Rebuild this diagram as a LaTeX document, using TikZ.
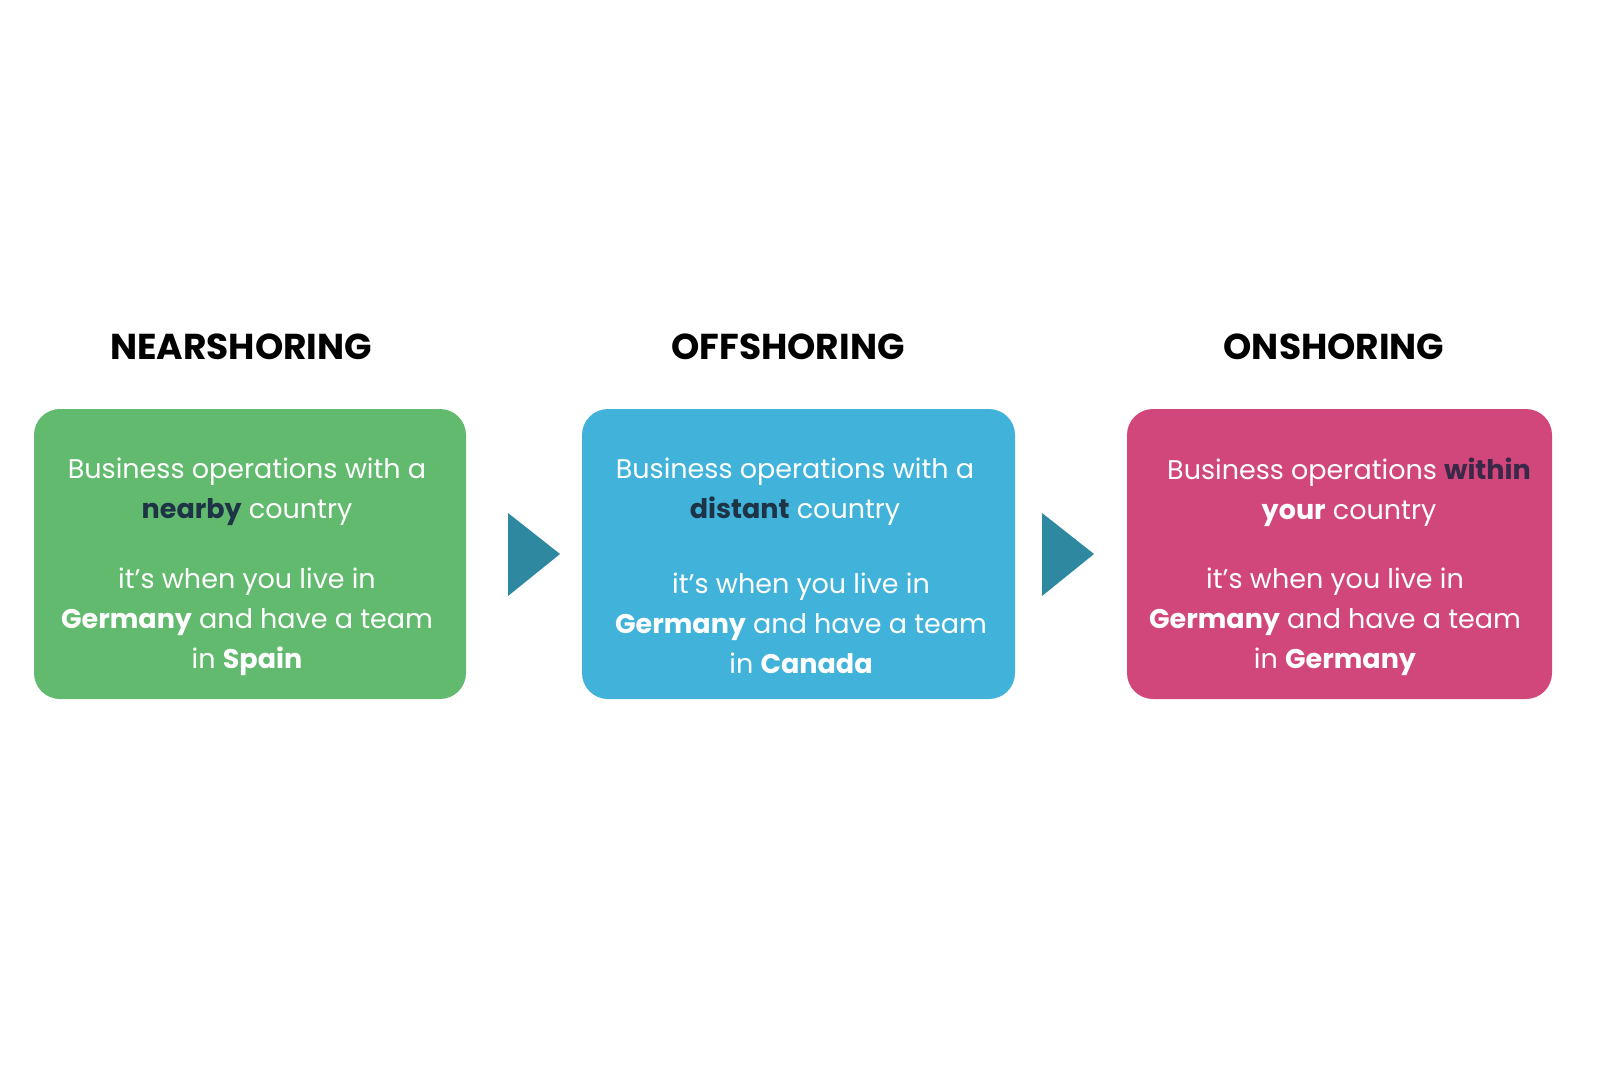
\documentclass[tikz,border=0pt]{standalone}
\usepackage{fontspec}
\setmainfont{Poppins}
\definecolor{cg}{HTML}{62BA6E}
\definecolor{cb}{HTML}{41B3DA}
\definecolor{cp}{HTML}{D1477C}
\definecolor{ca}{HTML}{2E88A0}
\definecolor{dk}{HTML}{1E3346}
\definecolor{dp}{HTML}{3A2848}
\begin{document}
\begin{tikzpicture}[x=1pt,y=-1pt,
  card/.style={rounded corners=26pt},
  ttl/.style={font=\fontsize{36}{40}\selectfont\bfseries,text=black},
  body/.style={font=\fontsize{27}{40}\selectfont,text=white,align=center},
  arr/.style={fill=ca}]
\useasboundingbox (0,0) rectangle (1600,1069);
\fill[white] (0,0) rectangle (1600,1069);
\fill[cg,card] (34,409) rectangle (466,699);
\fill[cb,card] (582,409) rectangle (1015,699);
\fill[cp,card] (1127,409) rectangle (1552,699);
\node[ttl] (t1) at (241,347) {NEARSHORING};
\node[ttl] (t2) at (788,347) {OFFSHORING};
\node[ttl] (t3) at (1334,347) {ONSHORING};
\node[body] (a1) at (247,492) {Business operations with a\\{\bfseries\color{dk}nearby} country};
\node[body] (b1) at (247,622) {it's when you live in\\{\bfseries Germany} and have a team\\in {\bfseries Spain}};
\node[body] (a2) at (795,492) {Business operations with a\\{\bfseries\color{dk}distant} country};
\node[body] (b2) at (801,623) {it's when you live in\\{\bfseries Germany} and have a team\\in {\bfseries Canada}};
\node[body] (a3) at (1349,492) {Business operations {\bfseries\color{dp}within}\\{\bfseries your} country};
\node[body] (b3) at (1335,622) {it's when you live in\\{\bfseries Germany} and have a team\\in {\bfseries Germany}};
\fill[arr] (508,513) -- (560,554) -- (508,596) -- cycle;
\fill[arr] (1042,513) -- (1094,554) -- (1042,596) -- cycle;
\end{tikzpicture}
\end{document}
